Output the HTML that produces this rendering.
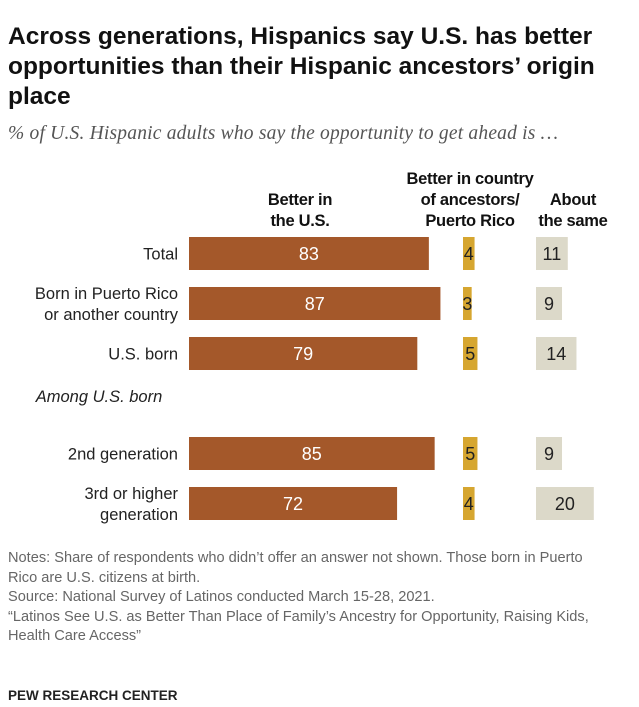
<!DOCTYPE html>
<html><head><meta charset="utf-8"><style>
body{margin:0;background:#fff;width:639px;height:707px;overflow:hidden;font-family:"Liberation Sans",sans-serif;position:relative}
.t{position:absolute;left:8px;top:22px;font-size:24.5px;font-weight:bold;line-height:30px;color:#111;width:620px;letter-spacing:0px}
.s{position:absolute;left:8px;top:123px;font-family:"Liberation Serif",serif;font-style:italic;font-size:19.5px;color:#555;letter-spacing:0.2px}
.n{position:absolute;left:8px;font-size:14.6px;color:#666;line-height:19.6px}
.src{position:absolute;left:8px;top:688px;font-size:13.5px;font-weight:bold;color:#222}
</style></head><body>
<div class="t">Across generations, Hispanics say U.S. has better opportunities than their Hispanic ancestors’ origin place</div>
<div class="s">% of U.S. Hispanic adults who say the opportunity to get ahead is …</div>
<svg id="c" width="639" height="540" style="position:absolute;left:0;top:0"></svg>
<div class="n" style="top:549px;width:595px">Notes: Share of respondents who didn’t offer an answer not shown. Those born in Puerto Rico are U.S. citizens at birth.<br>Source: National Survey of Latinos conducted March 15-28, 2021.<br>“Latinos See U.S. as Better Than Place of Family’s Ancestry for Opportunity, Raising Kids, Health Care Access”</div>
<div class="src">PEW RESEARCH CENTER</div>
<script>
const categories=[["Total"],["Born in Puerto Rico","or another country"],["U.S. born"],["2nd generation"],["3rd or higher","generation"]];
const betterUS=[83,87,79,85,72];
const betterAncestors=[4,3,5,5,4];
const aboutSame=[11,9,14,9,20];
const rowY=[237,287,337,437,487];
const k=2.89, bh=33;
const x1=v=>v*k;
const svg=document.getElementById('c');
const NS='http://www.w3.org/2000/svg';
function el(tag,attrs,txt){const e=document.createElementNS(NS,tag);for(const a in attrs)e.setAttribute(a,attrs[a]);if(txt!=null)e.textContent=txt;svg.appendChild(e);return e;}
function hdr(lines,cx,yb,name){lines.forEach((l,i)=>{const t=el('text',{x:cx,y:yb-(lines.length-1-i)*21,'text-anchor':'middle','font-size':'16.5','font-weight':'bold',fill:'#111','font-family':'Liberation Sans','letter-spacing':'-0.3'},l);

});}
hdr(["Better in","the U.S."],300,226,'header-better-us');
hdr(["Better in country","of ancestors/","Puerto Rico"],470,226,'header-better-ancestors');
hdr(["About","the same"],573,226,'header-about-same');
const g=el('text',{x:99,y:402,'font-size':'16.5','font-style':'italic',fill:'#222','text-anchor':'middle','font-family':'Liberation Sans'},'Among U.S. born');


categories.forEach((c,i)=>{
 const y=rowY[i], cy=y+bh/2;
 c.forEach((l,j)=>{const t=el('text',{x:178,y:cy+6+(j-(c.length-1)/2)*21,'text-anchor':'end','font-size':'16.5',fill:'#222','font-family':'Liberation Sans'},l);
 
 });
 const w1=x1(betterUS[i]);
 const b1=el('rect',{x:189,y:y,width:w1,height:bh,fill:'#a4582a'});
 
 
 const l1=el('text',{x:189+w1/2,y:cy+6.5,'text-anchor':'middle','font-size':'18',fill:'#fff','font-family':'Liberation Sans'},betterUS[i]);
 
 
 const w2=x1(betterAncestors[i]);
 const b2=el('rect',{x:463,y:y,width:w2,height:bh,fill:'#d6a630'});
 
 
 const l2=el('text',{x:463+w2/2,y:cy+6.5,'text-anchor':'middle','font-size':'18',fill:'#222','font-family':'Liberation Sans'},betterAncestors[i]);
 
 
 const w3=x1(aboutSame[i]);
 const b3=el('rect',{x:536,y:y,width:w3,height:bh,fill:'#dcd9c9'});
 
 
 const l3=el('text',{x:536+w3/2,y:cy+6.5,'text-anchor':'middle','font-size':'18',fill:'#222','font-family':'Liberation Sans'},aboutSame[i]);
 
 
});
</script>
</body></html>
